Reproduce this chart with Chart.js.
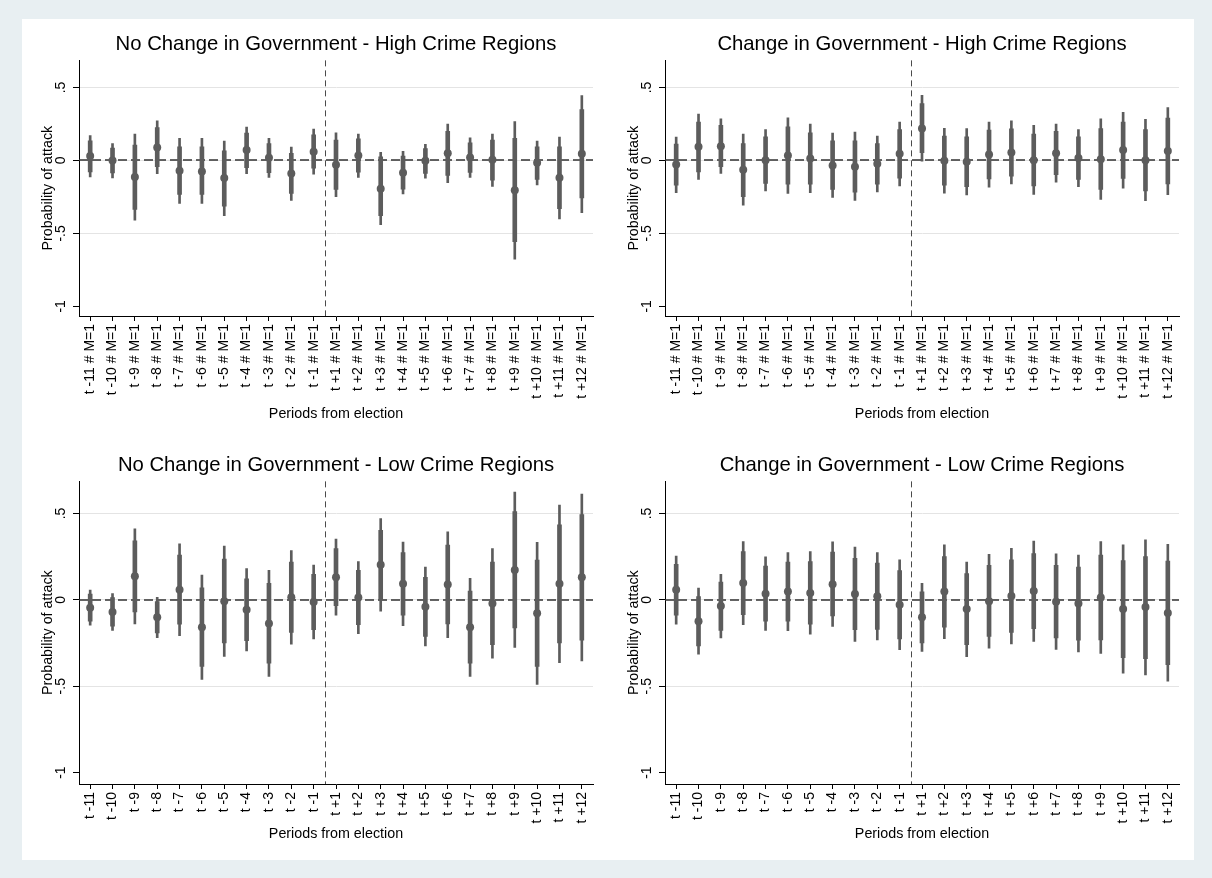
<!DOCTYPE html>
<html>
<head>
<meta charset="utf-8">
<script src="https://cdn.jsdelivr.net/npm/chart.js@4/dist/chart.umd.min.js"></script>
<style>
  html, body { margin: 0; padding: 0; width: 1212px; height: 878px; background: #e8eff2; overflow: hidden; }
  #frame { position: absolute; left: 22px; top: 19px; width: 1172px; height: 841px; background: #ffffff; }
  canvas { position: absolute; display: block; }
</style>
</head>
<body>
<div id="frame"></div>
<canvas id="p1" width="586" height="421" style="left:22px;top:19px"></canvas>
<canvas id="p2" width="586" height="421" style="left:608px;top:19px"></canvas>
<canvas id="p3" width="586" height="420" style="left:22px;top:440px"></canvas>
<canvas id="p4" width="586" height="420" style="left:608px;top:440px"></canvas>
<script>
// Periods relative to the election (11 before, 12 after)
const periodsLong = ['t -11 # M=1','t -10 # M=1','t -9 # M=1','t -8 # M=1','t -7 # M=1','t -6 # M=1','t -5 # M=1','t -4 # M=1','t -3 # M=1','t -2 # M=1','t -1 # M=1',
  't +1 # M=1','t +2 # M=1','t +3 # M=1','t +4 # M=1','t +5 # M=1','t +6 # M=1','t +7 # M=1','t +8 # M=1','t +9 # M=1','t +10 # M=1','t +11 # M=1','t +12 # M=1'];
const periodsShort = ['t -11','t -10','t -9','t -8','t -7','t -6','t -5','t -4','t -3','t -2','t -1',
  't +1','t +2','t +3','t +4','t +5','t +6','t +7','t +8','t +9','t +10','t +11','t +12'];
const periodsBefore = 11;

const yTickValues = [-1, -0.5, 0, 0.5];
const yTickLabels = ['-1', '-.5', '0', '.5'];

// No change in government, high crime regions
const ncHighEst  = [0.030, 0.000, -0.114, 0.089, -0.070, -0.075, -0.121, 0.071, 0.018, -0.089, 0.059, -0.030, 0.034, -0.194, -0.084, -0.002, 0.050, 0.021, 0.005, -0.205, -0.016, -0.119, 0.046];
const ncHighHi95 = [0.171, 0.116, 0.180, 0.272, 0.151, 0.151, 0.132, 0.228, 0.151, 0.091, 0.215, 0.190, 0.180, 0.055, 0.062, 0.110, 0.249, 0.155, 0.180, 0.267, 0.132, 0.160, 0.445];
const ncHighLo95 = [-0.112, -0.119, -0.409, -0.091, -0.295, -0.295, -0.379, -0.091, -0.116, -0.274, -0.094, -0.249, -0.116, -0.440, -0.230, -0.121, -0.153, -0.116, -0.178, -0.676, -0.167, -0.400, -0.358];
const ncHighHi90 = [0.135, 0.085, 0.105, 0.226, 0.094, 0.094, 0.066, 0.187, 0.116, 0.048, 0.176, 0.139, 0.148, 0.025, 0.030, 0.082, 0.200, 0.121, 0.139, 0.151, 0.094, 0.094, 0.349];
const ncHighLo90 = [-0.078, -0.085, -0.336, -0.043, -0.233, -0.233, -0.313, -0.050, -0.084, -0.226, -0.053, -0.199, -0.080, -0.379, -0.196, -0.089, -0.103, -0.082, -0.135, -0.557, -0.130, -0.331, -0.256];

// Change in government, high crime regions
const chHighEst  = [-0.027, 0.094, 0.098, -0.064, 0.002, 0.034, 0.014, -0.034, -0.043, -0.023, 0.046, 0.219, -0.002, -0.009, 0.041, 0.055, 0.002, 0.050, 0.016, 0.009, 0.071, 0.002, 0.064];
const chHighHi95 = [0.160, 0.317, 0.285, 0.180, 0.212, 0.292, 0.249, 0.187, 0.194, 0.167, 0.263, 0.447, 0.221, 0.219, 0.263, 0.272, 0.240, 0.249, 0.212, 0.285, 0.329, 0.281, 0.363];
const chHighLo95 = [-0.221, -0.130, -0.089, -0.306, -0.208, -0.226, -0.221, -0.253, -0.274, -0.215, -0.174, -0.005, -0.224, -0.237, -0.183, -0.160, -0.233, -0.148, -0.180, -0.267, -0.190, -0.276, -0.235];
const chHighHi90 = [0.112, 0.263, 0.240, 0.116, 0.162, 0.231, 0.189, 0.135, 0.135, 0.116, 0.212, 0.390, 0.167, 0.162, 0.208, 0.217, 0.180, 0.199, 0.162, 0.219, 0.263, 0.212, 0.290];
const chHighLo90 = [-0.169, -0.078, -0.043, -0.249, -0.158, -0.162, -0.162, -0.199, -0.217, -0.162, -0.121, 0.053, -0.169, -0.180, -0.126, -0.107, -0.174, -0.098, -0.130, -0.199, -0.123, -0.208, -0.160];

// No change in government, low crime regions
const ncLowEst  = [-0.046, -0.070, 0.137, -0.101, 0.059, -0.158, -0.008, -0.057, -0.137, 0.015, -0.013, 0.131, 0.013, 0.203, 0.093, -0.040, 0.089, -0.158, -0.021, 0.173, -0.078, 0.093, 0.131];
const ncLowHi95 = [0.057, 0.036, 0.411, 0.015, 0.325, 0.143, 0.312, 0.181, 0.171, 0.285, 0.202, 0.352, 0.222, 0.470, 0.335, 0.190, 0.394, 0.124, 0.297, 0.624, 0.333, 0.549, 0.612];
const ncLowLo95 = [-0.146, -0.177, -0.139, -0.219, -0.207, -0.460, -0.327, -0.295, -0.443, -0.257, -0.226, -0.089, -0.196, -0.065, -0.150, -0.266, -0.219, -0.443, -0.337, -0.276, -0.489, -0.363, -0.354];
const ncLowHi90 = [0.034, 0.013, 0.342, -0.010, 0.259, 0.070, 0.236, 0.122, 0.095, 0.219, 0.148, 0.297, 0.171, 0.403, 0.274, 0.131, 0.317, 0.051, 0.219, 0.511, 0.230, 0.435, 0.494];
const ncLowLo90 = [-0.124, -0.152, -0.070, -0.192, -0.141, -0.386, -0.249, -0.236, -0.367, -0.188, -0.173, -0.034, -0.143, 0.002, -0.089, -0.211, -0.139, -0.367, -0.259, -0.163, -0.386, -0.249, -0.234];

// Change in government, low crime regions
const chLowEst  = [0.059, -0.124, -0.036, 0.097, 0.036, 0.048, 0.040, 0.091, 0.034, 0.021, -0.029, -0.101, 0.048, -0.053, -0.008, 0.023, 0.051, -0.011, -0.021, 0.013, -0.053, -0.042, -0.076];
const chLowHi95 = [0.253, 0.068, 0.148, 0.338, 0.249, 0.274, 0.279, 0.336, 0.306, 0.274, 0.232, 0.095, 0.318, 0.219, 0.264, 0.298, 0.340, 0.266, 0.259, 0.338, 0.318, 0.348, 0.321];
const chLowLo95 = [-0.141, -0.314, -0.221, -0.143, -0.177, -0.179, -0.198, -0.154, -0.240, -0.232, -0.289, -0.298, -0.224, -0.329, -0.279, -0.255, -0.240, -0.287, -0.302, -0.310, -0.424, -0.435, -0.470];
const chLowHi90 = [0.205, 0.019, 0.103, 0.279, 0.196, 0.219, 0.221, 0.276, 0.241, 0.213, 0.169, 0.046, 0.251, 0.152, 0.200, 0.232, 0.268, 0.200, 0.190, 0.259, 0.228, 0.251, 0.224];
const chLowLo90 = [-0.089, -0.266, -0.177, -0.086, -0.124, -0.124, -0.141, -0.093, -0.173, -0.171, -0.226, -0.249, -0.158, -0.260, -0.211, -0.188, -0.167, -0.221, -0.234, -0.232, -0.335, -0.340, -0.375];

const FONT = "'Liberation Sans', Arial, Helvetica, sans-serif";
const MARK = '#5c5c5c';
Chart.defaults.font.family = FONT;
Chart.defaults.color = '#000';

// Dashed reference lines: zero effect and the election date
const refLines = {
  id: 'refLines',
  beforeDatasetsDraw(chart) {
    const { ctx, chartArea: a, scales: { x, y } } = chart;
    ctx.save();
    const px = Math.round(x.getPixelForValue(periodsBefore - 0.5)) + 0.5;
    ctx.setLineDash([6, 4]);
    ctx.lineWidth = 1;
    ctx.strokeStyle = '#4a4a4a';
    ctx.beginPath(); ctx.moveTo(px, a.top); ctx.lineTo(px, a.bottom); ctx.stroke();
    const py = Math.round(y.getPixelForValue(0));
    ctx.setLineDash([9, 4]);
    ctx.lineWidth = 1.6;
    ctx.strokeStyle = '#333';
    ctx.beginPath(); ctx.moveTo(a.left, py); ctx.lineTo(a.right, py); ctx.stroke();
    ctx.restore();
  }
};

function makePanel(id, title, labels, est, lo95, hi95, lo90, hi90, xAxisHeight) {
  const pts = est.map((v, i) => ({ x: i, y: v }));
  const wide = lo95.map((v, i) => ({ x: i, y: [v, hi95[i]] }));
  const narrow = lo90.map((v, i) => ({ x: i, y: [v, hi90[i]] }));
  return new Chart(document.getElementById(id), {
    type: 'scatter',
    data: {
      datasets: [
        { type: 'scatter', data: pts, pointRadius: 4, pointHoverRadius: 4, backgroundColor: MARK, borderWidth: 0 },
        { type: 'bar', data: narrow, backgroundColor: MARK, barThickness: 4, grouped: false, borderWidth: 0 },
        { type: 'bar', data: wide, backgroundColor: MARK, barThickness: 2, grouped: false, borderWidth: 0 }
      ]
    },
    options: {
      responsive: false,
      animation: false,
      events: [],
      layout: { padding: { left: 0, right: 15, top: 0, bottom: 0 }, autoPadding: false },
      plugins: {
        legend: { display: false },
        tooltip: { enabled: false },
        title: {
          display: true, text: title, color: '#000', fullSize: false,
          font: { size: 20.3, weight: 'normal', family: FONT },
          padding: { top: 13, bottom: 4 }
        }
      },
      scales: {
        x: {
          type: 'linear', min: -0.5, max: labels.length - 0.5, offset: false,
          afterBuildTicks: (s) => { s.ticks = labels.map((_, i) => ({ value: i })); },
          afterFit: (s) => { s.height = xAxisHeight; },
          ticks: {
            autoSkip: false, minRotation: 90, maxRotation: 90, padding: 3,
            font: { size: 14, family: FONT }, color: '#000',
            callback: (v) => labels[v]
          },
          grid: { drawOnChartArea: false, drawTicks: true, tickLength: 5, tickColor: '#000', offset: false },
          border: { display: true, color: '#000', width: 1 },
          title: {
            display: true, text: 'Periods from election', color: '#000',
            font: { size: 14.3, family: FONT }, padding: { top: 0, bottom: 17 }
          }
        },
        y: {
          type: 'linear', min: -1.066, max: 0.686,
          afterBuildTicks: (s) => { s.ticks = yTickValues.map((v) => ({ value: v })); },
          afterFit: (s) => { s.width = 57; },
          ticks: {
            minRotation: 90, maxRotation: 90, crossAlign: 'center', padding: 4,
            font: { size: 14, family: FONT }, color: '#000',
            callback: (v) => yTickLabels[yTickValues.indexOf(v)]
          },
          grid: {
            drawTicks: true, tickLength: 6, tickColor: '#000', lineWidth: 1,
            color: (c) => (c.tick && c.tick.value === -1) ? 'rgba(0,0,0,0)' : '#e4e4e4'
          },
          border: { display: true, color: '#000', width: 1 },
          title: {
            display: true, text: 'Probability of attack', color: '#000',
            font: { size: 14.3, family: FONT }, padding: { top: 17, bottom: 0 }
          }
        }
      }
    },
    plugins: [refLines]
  });
}

makePanel('p1', 'No Change in Government - High Crime Regions', periodsLong,
  ncHighEst, ncHighLo95, ncHighHi95, ncHighLo90, ncHighHi90, 124);
makePanel('p2', 'Change in Government - High Crime Regions', periodsLong,
  chHighEst, chHighLo95, chHighHi95, chHighLo90, chHighHi90, 124);
makePanel('p3', 'No Change in Government - Low Crime Regions', periodsShort,
  ncLowEst, ncLowLo95, ncLowHi95, ncLowLo90, ncLowHi90, 76);
makePanel('p4', 'Change in Government - Low Crime Regions', periodsShort,
  chLowEst, chLowLo95, chLowHi95, chLowLo90, chLowHi90, 76);
</script>
</body>
</html>
